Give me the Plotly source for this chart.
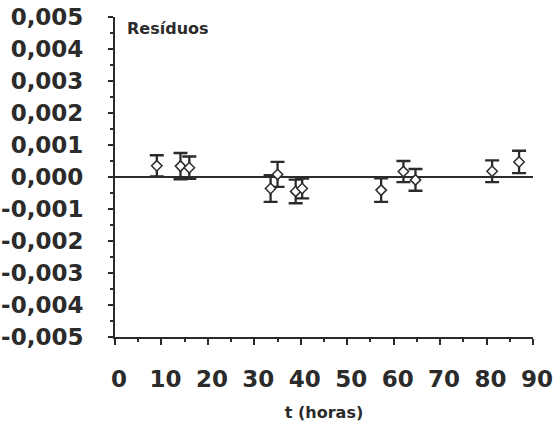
import plotly.graph_objects as go

# Data
t_horas = [9.0, 14.1, 16.0, 33.5, 35.0, 38.9, 40.3, 57.3, 62.1, 64.7, 81.2, 87.0]
residuos = [0.00035, 0.00034, 0.00029, -0.00036, 0.00008, -0.00045, -0.00036,
            -0.00041, 0.00017, -0.00009, 0.00018, 0.00047]
erro = [0.00033, 0.00041, 0.00035, 0.00042, 0.00039, 0.00037, 0.00031,
        0.00037, 0.00033, 0.00034, 0.00034, 0.00035]

y_tickvals = [0.005, 0.004, 0.003, 0.002, 0.001, 0.0, -0.001, -0.002, -0.003, -0.004, -0.005]
y_ticktext = ["0,005", "0,004", "0,003", "0,002", "0,001", "0,000",
              "-0,001", "-0,002", "-0,003", "-0,004", "-0,005"]
x_tickvals = [0, 10, 20, 30, 40, 50, 60, 70, 80, 90]

ink = "#2b2b2b"
font_main = "DejaVu Sans"

fig = go.Figure()
fig.add_trace(go.Scatter(
    x=t_horas, y=residuos, mode="markers",
    marker=dict(symbol="diamond", size=8, color="white",
                line=dict(color=ink, width=1.5)),
    error_y=dict(type="data", array=erro, visible=True,
                 color=ink, thickness=2.3, width=7),
    showlegend=False,
))

fig.update_layout(
    width=556, height=422,
    margin=dict(l=115, r=23, t=17, b=85),
    paper_bgcolor="white", plot_bgcolor="white",
    font=dict(family=font_main, color=ink),
    xaxis=dict(
        range=[0, 90], showgrid=False, zeroline=False, automargin=False,
        showline=True, linecolor=ink, linewidth=2,
        tickmode="array", tickvals=x_tickvals,
        ticks="outside", ticklen=6, tickwidth=2, tickcolor=ink,
        minor=dict(dtick=5, ticks="outside", ticklen=3, tickwidth=1.5, tickcolor=ink),
        tickfont=dict(family=font_main, size=23, color=ink, weight="bold"),
        ticklabelstandoff=14, ticklabelshift=4,
        title=dict(text="<b>t (horas)</b>", font=dict(family=font_main, size=16, color=ink),
                   standoff=22),
    ),
    yaxis=dict(
        range=[-0.005, 0.005], showgrid=False, automargin=False,
        zeroline=True, zerolinecolor=ink, zerolinewidth=1.5,
        showline=True, linecolor=ink, linewidth=2,
        tickmode="array", tickvals=y_tickvals, ticktext=y_ticktext,
        ticks="outside", ticklen=5, tickwidth=1.5, tickcolor=ink,
        minor=dict(dtick=0.0005, ticks="outside", ticklen=3, tickwidth=1.5, tickcolor=ink),
        tickfont=dict(family=font_main, size=23, color=ink, weight="bold"),
        ticklabelstandoff=20,
    ),
    annotations=[dict(
        text="<b>Resíduos</b>", x=0.025, y=1.0, xref="paper", yref="paper",
        xanchor="left", yanchor="top", showarrow=False,
        font=dict(family=font_main, size=16, color=ink),
    )],
)

fig.write_html("out.html", config={"displayModeBar": False},
               post_script="document.body.style.margin='0';")
